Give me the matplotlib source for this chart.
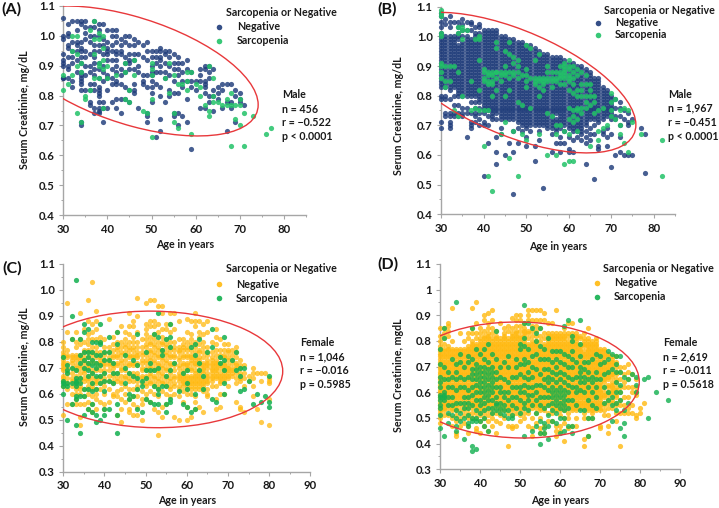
import matplotlib
matplotlib.use("Agg")
import matplotlib.pyplot as plt
from matplotlib.lines import Line2D
from matplotlib.patches import Ellipse
from matplotlib.transforms import Affine2D
from matplotlib.ticker import MultipleLocator

plt.rcParams['font.family'] = ['Lato', 'DejaVu Sans']
plt.rcParams['font.weight'] = 'bold'

# Values: age in years -> serum creatinine in hundredths of mg/dL
A_neg = {30:[106,100,99,94,92,91,90,86,86],31:[104,101,100,97,96,93,90,89,86],32:[105,98,95,93,91,85,83],
33:[105,102,98,97,95,92,88],34:[105,104,98,96,95,93,91,88,87,86,85,84,82,71,70],35:[105,103,101,99,95,93,90,87,82],
36:[103,100,98,94,90,88,84,82,78,77],37:[105,103,100,97,95,93,91,89,87,84,82,76,74],
38:[104,102,100,97,95,91,89,86,83,82,81,80,78,76,75,74],39:[104,99,97,94,90,88,85,78,76,71],
40:[102,98,96,95,94,92,87,86,82,76],41:[102,100,97,95,92,89,86,84,78],42:[102,100,98,95,94,92,90,88,85,84,79,76],
43:[99,97,95,94,89,87,84,79,74],44:[100,98,93,91,88,83,79],45:[100,97,94,92,91,89,82,78],46:[99,97,94,92,89,84,82,81],
47:[98,94,90,88,76],48:[97,93,87,85,84],49:[98,95,92,87,83,74,73,71],50:[95,93,90,88,87,85,83,81,78],
51:[95,93,91,88,84,66],52:[96,95,93,92,90,88,83,80,72,68],53:[95,94,91,88,86,78],54:[95,93,90,87,82,80],
55:[94,91,89,85,81,74,73],56:[93,91,89,87,81,74,70],57:[91,88,85,83,73],58:[92,89,85,79,71],59:[88,85,83,62],
60:[85,82],61:[89,87,85,76],62:[90,89,85,84,83,81,76],63:[90,88,86,80,78],64:[89,82,80,75],65:[83,81,79],
66:[84,82,76],67:[84,78,68],68:[84,78,76],69:[82,80,71],70:[81,79,78],71:[77]}
A_sar = {30:[87,82],31:[84],32:[100,95,87],33:[100,94,90,74],34:[91,88,71],35:[80,79],36:[102,82],37:[105,99,94,86],
38:[101,99,91,90,86],39:[100,96,92,89,76],40:[90,86],42:[87],44:[91,88,79],45:[82,78],46:[92,87],48:[75],49:[74],
50:[91,89,87,79,66],53:[86],54:[91,81],55:[87,74,71],56:[84,69],57:[84],58:[88,85,82],59:[88,67],60:[84],61:[83,80],
62:[77],63:[90,75,73],64:[86,80,78],65:[78],66:[77],67:[79,77],68:[81,77,63],69:[77,72],70:[79,77,70],71:[74,63],
73:[73],76:[67],77:[69]}

B_neg = {30:[108,107,105,103,101,100,98,96,95,94,92,91,90,88,87,86,85,84,83,80,79,71,69],
31:[106,104,100,99,97,95,93,91,90,88,86,84,83,80,79,74,73],32:[107,105,103,100,99,98,96,94,92,90,89,87,85,84,82,79,74,73,71,70,69],
33:[105,100,99,97,95,93,91,89,87,85,83,80,77,74,73],34:[105,103,101,99,96,94,92,90,88,86,84,82,80,77,74,73],
35:[106,104,102,100,98,96,94,92,90,88,86,85,83,81,80,76,74,73],36:[105,102,100,97,95,93,91,88,86,84,82,80,76,74,66],
37:[105,104,102,99,97,95,93,91,89,87,85,83,80,78,74,71,70,69],38:[103,101,99,96,94,92,90,87,85,83,81,78,76,74,73,71],
39:[104,103,101,100,98,95,93,91,89,87,84,82,80,78,76,74,72,70],40:[102,100,98,96,94,92,90,88,86,84,82,80,78,76,74,71,70,53],
41:[102,100,97,95,93,91,89,87,85,83,81,79,77,75,73,70,64],42:[102,101,99,97,95,93,91,89,87,85,83,81,78,76,74,72],
43:[102,100,98,96,94,92,90,88,85,83,81,79,77,75,72,66,61,57],44:[100,99,97,95,93,91,89,87,85,83,81,79,77,75,73,69,67],
45:[100,98,96,94,92,90,88,86,84,82,80,78,76,74,72,60],46:[99,97,95,93,91,89,87,85,83,81,79,77,75,73,64],
47:[99,97,95,93,91,89,87,84,82,80,78,76,74,72,68,61,47],48:[98,96,94,92,90,88,85,83,81,79,77,75,73,71,69,64],
49:[98,96,94,92,90,87,85,83,81,79,77,74,72,70,68],50:[97,95,93,91,89,87,85,83,81,79,77,75,73,71,69,66,63],
51:[97,95,93,91,89,87,85,83,81,79,77,75,73,71,68],52:[96,94,92,90,88,86,84,82,80,78,76,74,72,70,63,58],
53:[95,93,91,89,87,85,83,81,79,77,75,73,71,68,65],54:[94,92,90,88,86,84,82,80,78,76,74,72,70,49],
55:[94,92,90,88,86,84,82,80,78,76,74,72,70,69],56:[93,91,89,87,85,83,81,79,77,75,73,71,69,67,61],
57:[93,91,89,87,85,83,81,79,77,75,72,70,68,64],58:[93,91,89,87,85,83,80,78,76,74,72,69,66,64,61],
59:[92,90,88,86,84,82,80,78,76,73,71,68,64],60:[91,89,87,85,83,81,79,77,75,73,71,69,66,62,61],
61:[91,89,87,85,83,81,79,77,74,72,70,68,65,61],62:[90,88,86,84,82,80,78,75,72,70,68,66],
63:[90,88,86,84,82,80,78,76,73,71,69,67,65],64:[89,87,85,83,81,79,77,75,72,70,66,64,57],
65:[88,86,84,82,80,78,75,73,69,67,65],66:[86,84,82,80,78,76,74,73,70,67,52],67:[86,84,82,80,78,76,73,71,63,62],
68:[83,81,79,77,75,72,68,67],69:[82,80,78,76,74,69,66,63],70:[80,78,76,74,72,67,56],71:[79,76,73,72,60],
72:[78,76,73,70,66,61],73:[75,72,60],74:[74,71,70,60],75:[72,60],77:[69],78:[67,54]}
B_neg_core = {30:[99,97,93,89],31:[98,96,94,92,89,87,85],32:[97,95,93,91,88,86,83],33:[98,96,94,92,90,88,86,84],
34:[100,97,95,93,91,89,87,85,83,81],35:[97,95,93,91,89,87,84,82],36:[99,98,96,94,92,90,89,87,85,83,81],37:[98,96,94,92,90,88,86,84,82,81],
38:[100,98,97,95,93,91,89,88,86,84,82,80],39:[99,97,96,94,92,90,88,86,85,83,81,79],40:[101,99,97,95,93,91,89,87,85,83,81,79,77,75],
41:[101,99,98,96,94,92,90,88,86,84,82,80,78,76],42:[100,98,96,94,92,90,88,86,84,82,80,79,77,75,73],
43:[101,99,97,95,93,91,89,87,86,84,82,80,78,76,74],44:[98,96,94,92,90,88,86,84,82,80,78,76,74,72],
45:[99,97,95,93,91,89,87,85,83,81,79,77,75,73],46:[98,96,94,92,90,88,86,84,82,80,78,76,74,72],
47:[98,96,94,92,90,88,86,85,83,81,79,77,75,73],48:[97,95,93,91,89,87,86,84,82,80,78,76,74,72],
49:[97,95,93,91,89,88,86,84,82,80,78,76,75,73,71],50:[96,94,92,90,88,86,84,82,80,78,76,74,72,70],
51:[96,94,92,90,88,86,84,82,80,78,76,74,72,70],52:[95,93,91,89,87,85,83,81,79,77,75,73,71],
53:[94,92,90,88,86,84,82,80,78,76,74,72,70],54:[93,91,89,87,85,83,81,79,77,75,73,71],55:[93,91,89,87,85,83,81,79,77,75,73,71],
56:[92,90,88,86,84,82,80,78,76,74,72,70],57:[92,90,88,86,84,82,80,78,76,74,71,69],58:[92,90,88,86,84,82,81,79,77,75,73,71,70],
59:[91,89,87,85,83,81,79,77,75,74,72,70],60:[90,88,86,84,82,80,78,76,74,72,70],61:[90,88,86,84,82,80,78,76,75,73,71,69],
62:[89,87,85,83,81,79,77,76,74,73,71,69],63:[89,87,85,83,81,79,77,75,74,72,70,68],64:[88,86,84,82,80,78,76,74,73,71,68],
65:[87,85,83,81,79,77,76,74,72],66:[85,83,81,79,77,75,72],67:[85,83,81,79,77,75,74,72],68:[82,80,78,76,74,73],69:[81,79,77,75,73],70:[79,77,75,73]}
B_sar = {30:[109,108,107,101,100,91,90,88,86],31:[90,85,83],32:[90,85],33:[90,75],34:[103,101,88,73],35:[103,102,99,80],
36:[102],37:[85,75],38:[99,76],39:[100,99,92,82,75],40:[89,88,85,75,63],41:[88,85,75,53],42:[88,84,80,48],
43:[98,96,88,82],44:[88,85,67],45:[95,88,80,71],46:[98,94,82,59],47:[93,87,68],48:[92,86,78,53],49:[87,77,67],
50:[97,89,83,65],51:[96,86,76],52:[92,85],53:[94,85,83,80,67],54:[85,82],55:[90,86,74,60],56:[86,83,73],
57:[86,70,67,60],58:[88,86,84,70],59:[91,89,87,84,68,57],60:[92,90,86,82,76,72,67,58],61:[90,84,75,73,71,58],
62:[89,82,76,72,68],63:[88,82,74],64:[87,80,76],65:[82,77,63],66:[80],67:[75,68,65],68:[76,69],69:[70],
70:[81,78,75,73],71:[79,72],72:[75,70,67],73:[76,64],74:[75,61],75:[71],77:[67],82:[65,53]}
B_sar_core = {40:[86],41:[87,84],42:[87,85],43:[88,86],44:[87],45:[90,87],46:[88,86],47:[91,88],48:[90,88],50:[87,85],52:[86,84],
53:[86],54:[86,84],55:[88,85],56:[88,85],57:[88,85],58:[90,87],59:[90,88,86],60:[89,87,85],61:[88,86,81],62:[87,80,75],
63:[84,80,76],64:[84,78],65:[84,80],66:[78,74]}

C_neg = {30:[80,78,76,75,73,71,70,69,67,65,63,52],31:[95,84,77,75,74,72,70,68,66,64,62,56],32:[81,75,74,72,68,66,63,60,56],
33:[84,80,78,75,73,71,69,67,65,62,60,58,56],34:[91,81,79,75,73,70,68,66,63,60,56,51,48],35:[85,80,77,74,72,70,68,65,62,59,56],
36:[96,88,83,81,79,76,74,72,70,67,65,63,60,57,54],37:[103,87,84,81,78,75,72,69,66,64,62,59,56,53],
38:[92,88,85,81,78,74,72,69,66,64,62,60,58,54],39:[82,80,76,73,71,69,66,62,57],40:[81,78,75,73,71,68,66,63,60,56,54],
41:[89,78,76,73,71,67,62,57],42:[82,79,77,74,72,70,67,64,60,59],43:[84,80,77,74,71,68,65,61,59,52],
44:[86,80,78,75,72,70,67,65,62,58,54,49],45:[84,81,78,75,73,69,66,63,60,57],46:[91,86,83,80,77,74,71,68,65,62,58,54,53],
47:[88,86,82,80,77,74,71,68,65,62,59,56,52],48:[97,90,84,80,76,74,71,68,65,62,59,55,52],49:[81,78,75,72,69,67,64,61,58,56,50],
50:[95,87,85,83,81,78,75,72,69,66,63,60,58],51:[96,88,86,82,79,76,73,70,67,64,61,57],52:[96,88,86,83,81,78,75,72,69,66,63,60,54],
53:[94,87,84,80,77,74,71,68,65,62,59,53,44],54:[94,91,85,82,79,76,73,70,67,64,61,55,51],55:[87,85,81,78,75,72,69,66,63,60,56],
56:[91,87,84,80,77,74,71,68,65,62,59],57:[91,85,80,77,74,71,69,66,63,60,51],58:[88,81,78,76,73,70,67,65,62,59,50],
59:[81,79,77,74,71,68,66,64,61,57],60:[89,84,80,77,74,71,69,67,65,63,60,55,50],61:[88,83,81,77,74,72,69,66,64,62,60,51],
62:[91,88,86,80,76,73,71,68,66,64,62,59,57,54],63:[88,84,82,79,76,73,71,68,66,64,62,55],64:[87,83,80,76,72,70,68,65,63,61,53],
65:[88,84,78,75,72,70,67,65,62,60,59],66:[80,76,73,71,69,68,66,63],67:[85,82,79,75,72,70,68,66,63,58,54],
68:[81,77,74,71,68,66,64,60,55],69:[79,77,74,71,69,67,65,60],70:[79,76,73,70,68,66,63],71:[77,75,72,69,67],
72:[78,76,72,70,66,64,57],73:[73,70,67,65,55,54],74:[71,68,66,63,53],75:[67,65],76:[70,68,66,63,59],77:[68,54],
78:[68,65,49],79:[68],80:[66,65,64,58,48]}
C_neg_core = {30:[74,72,66],32:[73,70,65],33:[74,70,63],34:[74,71,65,62],35:[76,73,69,66],36:[77,71,66,62],37:[76,73,68,63],38:[76,70,65],
39:[74,72,67,64],40:[76,72,69,65],41:[74,72,69,65],42:[75,71,68,65],43:[78,75,72,66],44:[76,73,69,64],45:[79,76,71,67],46:[78,75,72,66],
47:[78,75,72,67],48:[78,75,72,67,63],49:[76,73,70,66],50:[79,76,73,70,67,64],51:[80,77,74,71,68,65],52:[79,76,73,70,67,64],
53:[78,75,72,69,66,63],54:[80,77,74,71,68,65],55:[79,76,73,70,67,64],56:[78,75,72,69,66,63],57:[78,75,72,67,64],58:[77,74,71,68,66,63],
59:[78,75,72,69,67,65,63],60:[78,75,72,70,66,64,62],61:[79,75,73,70,67,65,63],62:[78,74,72,69,67,65,63],63:[77,74,72,69,67,65,63],
64:[78,74,71,69,66,64,62],65:[76,73,71,68,66,64],66:[74,72,70,67,65],67:[77,73,71,69,67],68:[75,72,70,67,65],69:[75,72,70,68,66],
70:[77,74,71,69,67],71:[73,70,68],72:[74,71,68],73:[71,68,66]}
C_sar = {30:[74,65,64,63,60],31:[71,69,68,64,63,50],32:[90,81,70,64,56],33:[104,69,66,65,64,63,59,58,48],34:[81,75,72,66,64,59,45],
35:[87,84,76,73,70,62,59,52],36:[85,76,74,72,69,67,62,54],37:[80,76,73,71,68,64,61,56,53],38:[80,75,72,70,67,62,52,49],
39:[87,80,79,75,71,67,64,50],40:[76,73,68,65,61,54,52],41:[82,76,73,65,54],42:[72,68,64],43:[84,79,68,56,52,45],45:[75,70,64],
46:[68,60,58],47:[73,67,59],48:[83,71,66,62,54],49:[65,63,53],50:[76,69,66,58],51:[72,69,57],52:[83,69,63,56],
53:[91,82,70,62,60,56],54:[77,75,63],55:[81,67,63,56,53],56:[87,82,78,69,58,57],57:[72],58:[61],59:[68,56],60:[69,64,62,55],
61:[78,53],62:[79,75,60,54],63:[81,72,69],64:[67,62],65:[76],66:[85,78,58],67:[57],68:[74,72],69:[82,73,69,64,60],71:[73],
72:[76,69],73:[70,67,61],74:[70,62],75:[65],76:[56],77:[60],78:[57],79:[59],80:[67,57,55]}

D_neg = {30:[85,82,80,78,76,74,72,70,68,66,64,62,60,58,56,54,52,50,48],31:[85,83,81,79,77,75,73,71,69,67,65,63,61,59,57,55,53,51],
32:[87,86,84,82,78,76,74,72,70,68,66,64,62,60,58,56,54,51],33:[93,80,77,75,73,71,69,67,65,63,61,59,57,55,53,50,47],
34:[77,75,73,71,69,67,65,63,61,59,57,55,53,51,49,44,43],35:[83,77,75,73,71,69,67,65,63,61,59,57,55,53,50,47],
36:[80,77,75,73,71,69,67,65,63,61,59,57,55,53,51,48],37:[83,81,78,76,74,72,70,68,66,64,62,60,58,56,54,52,50,47,44],
38:[93,85,83,80,78,76,74,72,70,68,66,64,62,60,58,56,54,52,50],39:[95,87,83,81,79,77,75,73,71,69,67,65,63,61,59,57,55,52,50,46,45],
40:[85,83,81,79,77,75,73,71,69,67,65,63,61,59,57,55,53,51,49,44],41:[90,88,84,82,80,78,76,74,72,70,68,66,64,62,60,58,56,54,52,50,47],
42:[91,87,85,83,81,79,77,75,73,71,69,67,65,63,61,59,57,55,53,51,49,45],43:[92,88,85,83,80,78,76,74,72,70,68,66,64,62,60,58,56,54,52,50,47],
44:[84,82,80,78,76,74,72,70,68,66,64,62,60,58,56,54,52,49,44],45:[87,81,79,77,75,73,71,69,67,65,63,61,59,57,55,53,51,48],
46:[85,83,81,79,77,75,73,71,69,67,65,63,61,59,57,55,53,50],47:[86,84,80,78,76,74,72,70,68,66,64,62,60,58,56,54,52,47,39],
48:[89,85,83,81,79,77,75,73,71,69,67,65,63,61,59,57,55,53,51,47,46],49:[90,88,86,84,82,80,78,76,74,72,70,68,66,64,62,60,58,56,54,52,47],
50:[90,88,86,84,81,79,77,75,73,71,69,67,65,63,61,59,57,55,53,51,49],51:[87,85,83,81,79,77,75,73,71,69,67,65,63,61,59,57,55,52,50],
52:[92,90,88,84,81,78,76,74,72,70,68,66,64,62,60,58,56,54,52,47],53:[92,88,86,80,78,76,74,72,70,68,66,64,62,60,58,56,54,50,46,43],
54:[92,88,84,82,78,76,74,72,70,68,66,64,62,60,58,56,54,52,48],55:[92,88,85,80,77,75,73,71,69,67,65,63,61,59,57,55,53,50,46,44],
56:[91,88,83,79,77,75,73,71,69,67,65,63,61,59,57,55,53,47,44],57:[87,83,81,79,77,75,73,71,69,67,65,63,61,59,57,55,52,49],
58:[87,83,81,79,77,75,72,70,68,66,64,62,60,58,56,54,52,49],59:[92,83,81,79,77,75,73,71,69,67,65,63,61,59,57,55,53,47,45,43],
60:[83,81,79,77,75,73,71,69,67,65,63,61,59,57,55,53,51,47,45],61:[85,83,81,79,77,75,73,71,69,67,65,63,61,59,57,55,53,50,48,41],
62:[87,82,80,78,76,74,72,70,68,66,64,62,60,58,56,54,52,50,46],63:[87,83,81,79,77,75,73,71,69,67,65,63,61,59,57,55,53,47],
64:[83,81,79,77,75,73,71,69,67,65,63,61,59,57,55,53,50,47],65:[82,78,76,74,72,70,68,66,64,62,60,58,56,54],
66:[83,81,79,76,74,72,70,68,66,64,62,60,58,56,54,52,50,42,39],67:[85,81,79,77,75,73,71,69,67,65,63,61,59,57,55,53,50,43],
68:[80,78,76,74,72,70,68,66,64,62,60,58,56,54,52,50],69:[81,79,77,75,73,71,69,67,65,63,61,59,57,55,53],
70:[77,75,73,71,69,67,65,63,61,59,57,55,53,47,46],71:[77,75,73,71,69,67,65,62,59,56,53,51],72:[75,72,70,68,66,63,60,57,54,51,47,44],
73:[74,72,70,67,64,62,60,57,54],74:[74,71,68,65,62,59,56,52,49],75:[70,68,65,62,60,57,55,52,39],76:[70,67,64,62,58,55,52],
77:[71,68,65,62,58,54,52],78:[67,62,60,55,52],79:[65,62,60,59,51,50],80:[54,52],81:[56]}
D_neg_core = {30:[77,75,73,71,69,67,65,63,61,59,57,55,53],31:[76,74,72,70,68,66,64,62,60,58,56,54],32:[77,75,73,71,69,67,65,63,61,59,57,55],
33:[76,74,72,70,68,66,64,62,60,58,56,54],34:[76,74,72,70,68,66,64,62,60,58,56,54],35:[76,74,72,70,68,66,64,62,60,58,56],
36:[76,74,72,70,68,66,64,62,60,58,56,54],37:[77,75,73,71,69,67,65,63,61,59,57,55],38:[79,77,75,73,71,69,67,65,63,61,59,57,55],
39:[78,76,74,72,70,68,66,64,62,60,58,56,54],40:[80,78,76,74,72,70,68,66,64,62,60,58,56,54],41:[81,79,77,75,73,71,69,67,65,63,61,59,57,55],
42:[82,80,78,76,74,72,70,68,66,64,62,60,58,56],43:[81,79,77,75,73,71,69,67,65,63,61,59,57,55],44:[81,79,77,75,73,71,69,67,65,63,61,59,57,55],
45:[80,78,76,74,72,70,68,66,64,62,60,58,56,54],46:[82,80,78,76,74,72,70,68,66,64,62,60,58,56,54],47:[81,79,77,75,73,71,69,67,65,63,61,59,57,55],
48:[82,80,78,76,74,72,70,68,66,64,62,60,58,56,54],49:[83,81,79,77,75,73,71,69,67,65,63,61,59,57,55],50:[82,80,78,76,74,72,70,68,66,64,62,60,58,56,54],
51:[84,82,80,78,76,74,72,70,68,66,64,62,60,58,56,54],52:[83,79,77,75,73,71,69,67,65,63,61,59,57,55],53:[84,82,79,77,75,73,71,69,67,65,63,61,59,57,55],
54:[86,80,79,77,75,73,71,69,67,65,63,61,59,57,55],55:[82,78,76,74,72,70,68,66,64,62,60,58,56,54],56:[81,78,76,74,72,70,68,66,64,62,60,58,56,54],
57:[82,80,78,76,74,72,70,68,66,64,62,60,58,56],58:[82,80,78,76,74,73,71,69,67,65,63,61,59,57,55],59:[82,80,78,76,74,72,70,68,66,64,62,60,58,56,54],
60:[82,80,78,76,74,72,70,68,66,64,62,60,58,56,54],61:[82,80,78,76,74,72,70,68,66,64,62,60,58,56,54],62:[83,79,77,75,73,71,69,67,65,63,61,59,57,55],
63:[82,80,78,76,74,72,70,68,66,64,62,60,58,56,54],64:[82,80,78,76,74,72,70,68,66,64,62,60,58,56,54],65:[81,79,77,75,73,71,69,67,65,63,61,59,57,55],
66:[80,78,75,73,71,69,67,65,63,61,59,57,55],67:[80,78,76,74,72,70,68,66,64,62,60,58,56,54],68:[79,77,75,73,71,69,67,65,63,61,59,57,55,53],
69:[80,78,76,74,72,70,68,66,64,62,60,58,56,54],70:[76,74,72,70,68,66,64,62,60,58,56,54],71:[76,74,72,70,68,66,64,60,58,55],72:[74,71,69,67,65,62,59,56],
73:[73,71,68,66,63,61,59,56],74:[72,70,67,64,61,58,55]}
D_sar = {30:[77,71,66,64,62,59,58,57,55,54,51,46],31:[85,81,70,65,60,59,58,57,43],32:[68,65,62,58,55,52,48],33:[73,66,62,58,55,51],
34:[95,71,68,65,61,56,53,50,47,45],35:[75,72,66,62,56,52,49],36:[70,65,62,58,56,54,50,42],37:[74,72,66,61,58,56,54,51,48,47],
38:[85,73,69,67,65,62,59,55,50,49,39,37],39:[77,71,69,67,65,63,60,57,53,50,49,38],40:[75,70,68,66,64,62,60,57,55,52,49],
41:[77,73,70,68,66,64,62,60,58,56,53,50,47],42:[79,72,69,67,65,63,61,59,57,54,45],43:[75,70,68,66,64,62,60,57,54,52],
44:[84,73,68,65,62,58,56,55,53],45:[70,66,62,60,56,54,52],46:[72,65,60,58,55,53,51],47:[74,70,64,60,57,53,50],48:[66,62,58,55,51,50],
49:[73,70,66,62,58,54],50:[79,77,71,67,62,60,57,52],51:[94,87,81,78,73,71,66,63,60,56,54,43],52:[87,77,72,68,65,62,59,57,53],
53:[85,74,70,66,62,59,55,45],54:[83,80,75,69,63,60,57,52,47],55:[85,78,73,67,63,58,55,49,44,40],56:[77,73,69,65,62,58,54,48,46,44],
57:[81,73,69,66,64,61,58,55,51,47,42],58:[76,72,68,65,62,60,58,56,53,49],59:[76,73,70,67,64,61,59,57,55,52,48],
60:[76,72,68,65,62,60,58,56,54,50,44],61:[86,75,71,67,64,61,59,57,55,53,50,45],62:[88,74,70,66,63,60,57,54,47],
63:[82,80,76,73,70,65,62,57,47,44],64:[72,66,62,60,55],65:[88,79,74,70,68,66,64,61,53],66:[72,69,66,64,60,53],
67:[72,68,65,62,57,50,43],68:[73,66,64,60,55,50],69:[75,68,65,62,58,54],70:[74,71,65],71:[72,67,62,56],72:[76,73,68,60,57],
73:[75,69,58,55,49],74:[74,71,68,64,60,56,53],75:[74,68,63,60,57,46],76:[66,53,48,43],77:[65,56],78:[67],79:[66,63,60],81:[65],
82:[66,50],84:[60],87:[57]}

NAVY, GREEN, ORANGE, GREEN2 = '#1F3C7A', '#22C268', '#FFB90F', '#12B04F'
W, H = 719, 508
fig = plt.figure(figsize=(W / 100, H / 100), dpi=100)

def fx(x): return x / W
def fy(y): return 1 - y / H

def flat(*dicts):
    xs, ys = [], []
    for d in dicts:
        for age, vals in d.items():
            for v in vals:
                xs.append(age)
                ys.append(v / 100)
    return xs, ys

PANELS = [
 dict(box=(63.3, 306, 5.7, 215.3), xlim=(30, 85), ylim=(0.4, 1.1), neg=(A_neg,), sar=(A_sar,), c1=NAVY, c2=GREEN, a1=.82, a2=.85,
      yt=['0.4','0.5','0.6','0.7','0.8','0.9','1.0','1.1'], ylab='Serum Creatinine, mg/dL', ylx=25, yly=110, xlc=185, xly=244,
      tag='(A)', tagxy=(1, 9), leg=(226, 13, 237, 27, 41, 219), info=['Male','n = 456','r = \u22120.522','p < 0.0001'],
      ix=282, iy=(94, 109, 123, 137), ell=(45.66, 28.5, 0.882, 0.217, -0.52)),
 dict(box=(441, 675, 6.7, 214.3), xlim=(30, 85), ylim=(0.4, 1.1), neg=(B_neg, B_neg_core), sar=(B_sar, B_sar_core), c1=NAVY, c2=GREEN, a1=.82, a2=.85,
      yt=['0.4','0.5','0.6','0.7','0.8','0.9','1.0','1.1'], ylab='Serum Creatinine, mg/dL', ylx=399, yly=116, xlc=558, xly=247,
      tag='(B)', tagxy=(377, 9), leg=(604, 10, 615, 23, 35, 598), info=['Male','n = 1,967','r = \u22120.451','p < 0.0001'],
      ix=668, iy=(94, 108, 122, 137), ell=(47, 28.8, 0.844, 0.237, -0.6)),
 dict(box=(63.3, 310.3, 264, 471.7), xlim=(30, 90), ylim=(0.3, 1.1), neg=(C_neg, C_neg_core), sar=(C_sar,), c1=ORANGE, c2=GREEN2, a1=.75, a2=.85,
      yt=['0.3','0.4','0.5','0.6','0.7','0.8','0.9','1.0','1.1'], ylab='Serum Creatinine, mg/dL', ylx=25, yly=367, xlc=187, xly=501,
      tag='(C)', tagxy=(2, 268), leg=(226, 269, 236, 284, 298, 219), info=['Female','n = 1,046','r = \u22120.016','p = 0.5985'],
      ix=300, iy=(343, 357, 371, 385), ell=(52, 31.3, 0.694, 0.2245, -0.03)),
 dict(box=(440, 680.3, 264, 469.3), xlim=(30, 90), ylim=(0.3, 1.1), neg=(D_neg, D_neg_core), sar=(D_sar,), c1=ORANGE, c2=GREEN2, a1=.8, a2=.8,
      yt=['0.3','0.4','0.5','0.6','0.7','0.8','0.9','1','1.1'], ylab='Serum Creatinine, mgdL', ylx=399, yly=375, xlc=560, xly=501,
      tag='(D)', tagxy=(377, 264), leg=(603, 268, 614, 283, 297, 597), info=['Female','n = 2,619','r = \u22120.011','p = 0.5618'],
      ix=663, iy=(343, 357, 371, 385), ell=(50, 29.75, 0.648, 0.226, -0.03)),
]

FS = 7.7
for p in PANELS:
    l, r, t, b = p['box']
    ax = fig.add_axes([fx(l), fy(b), (r - l) / W, (b - t) / H])
    ax.set_xlim(*p['xlim']); ax.set_ylim(*p['ylim'])
    for s in ('top', 'right'):
        ax.spines[s].set_visible(False)
    for s in ('left', 'bottom'):
        ax.spines[s].set_color('#A6A6A6'); ax.spines[s].set_linewidth(1.0)
    ax.xaxis.set_major_locator(MultipleLocator(10)); ax.xaxis.set_minor_locator(MultipleLocator(5))
    ax.yaxis.set_major_locator(MultipleLocator(0.1)); ax.yaxis.set_minor_locator(MultipleLocator(0.05))
    ax.tick_params(which='major', length=3, width=0.8, color='#A6A6A6', labelsize=8.2, pad=3, labelcolor='#1a1a1a')
    ax.tick_params(which='minor', length=1.5, width=0.7, color='#A6A6A6')
    ax.set_yticks([float(v) for v in p['yt']]); ax.set_yticklabels(p['yt'])
    for x, c, a in ((flat(*p['neg']), p['c1'], p['a1']), (flat(*p['sar']), p['c2'], p['a2'])):
        ax.scatter(x[0], x[1], s=14, color=c, alpha=a, linewidths=0, clip_on=False, zorder=3)
    cx, ew, cy, eh, cp = p['ell']
    sp = (1 - cp * cp) ** 0.5
    tr = Affine2D.from_values(ew, eh * cp, 0, eh * sp, cx, cy) + ax.transData
    ax.add_patch(Ellipse((0, 0), 2, 2, transform=tr, fill=False, ec='#E8383B', lw=1.0, zorder=4))
    ax.set_xlabel('Age in years', fontsize=FS, fontweight='bold', color='#1a1a1a')
    ax.xaxis.set_label_coords(fx(p['xlc']), fy(p['xly']), transform=fig.transFigure)
    ax.set_ylabel(p['ylab'], fontsize=FS, fontweight='bold', color='#1a1a1a', va='center')
    ax.yaxis.set_label_coords(fx(p['ylx']), fy(p['yly']), transform=fig.transFigure)
    ax.xaxis.label.set_va('center')
    fig.text(fx(p['tagxy'][0]), fy(p['tagxy'][1]), p['tag'], fontsize=11.5, fontweight='bold', va='center', color='#111111')
    tx, ty, lx, y1, y2, mx = p['leg']
    fig.text(fx(tx), fy(ty), 'Sarcopenia or Negative', fontsize=FS, va='center', color='#1a1a1a')
    for yy, name, c in ((y1, 'Negative', p['c1']), (y2, 'Sarcopenia', p['c2'])):
        fig.text(fx(lx), fy(yy), name, fontsize=FS, va='center', color='#1a1a1a')
        fig.add_artist(Line2D([fx(mx)], [fy(yy)], marker='o', ms=4, mew=0, color=c, alpha=.9, ls='none', transform=fig.transFigure))
    for yy, s in zip(p['iy'], p['info']):
        fig.text(fx(p['ix']), fy(yy), s, fontsize=FS, va='center', color='#1a1a1a')

fig.savefig('out.png', dpi=100)
